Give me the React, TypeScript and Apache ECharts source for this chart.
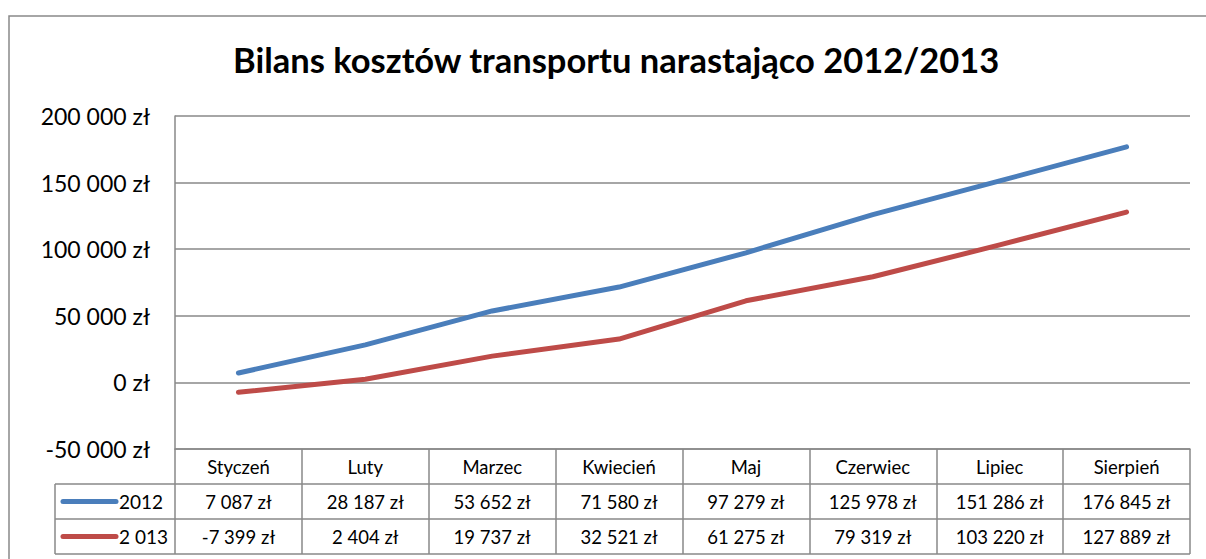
import React, { useEffect, useRef } from "react";
import * as echarts from "echarts";

const TITLE = "Bilans kosztów transportu narastająco 2012/2013";
const MONTHS = ["Styczeń", "Luty", "Marzec", "Kwiecień", "Maj", "Czerwiec", "Lipiec", "Sierpień"];
const SERIES_NAMES = ["2012", "2 013"];
const VALUES_2012 = [7087, 28187, 53652, 71580, 97279, 125978, 151286, 176845];
const VALUES_2013 = [-7399, 2404, 19737, 32521, 61275, 79319, 103220, 127889];
const COLORS = ["#4A7EBB", "#BE4B48"];
const Y_MIN = -50000;
const Y_MAX = 200000;
const Y_STEP = 50000;

const FONT = "Lato, 'Open Sans', sans-serif";
const GRID_COLOR = "#898989";

function fmt(n: number): string {
  const s = Math.abs(n).toString().replace(/\B(?=(\d{3})+(?!\d))/g, " ");
  return (n < 0 ? "-" : "") + s + " zł";
}

export default function App() {
  const ref = useRef<HTMLDivElement>(null);
  useEffect(() => {
    if (!ref.current) return;
    const chart = echarts.init(ref.current, null, { renderer: "svg" });
    const seriesData = [VALUES_2012, VALUES_2013];
    chart.setOption({
      animation: false,
      backgroundColor: "#ffffff",
      textStyle: { fontFamily: FONT },
      title: {
        text: TITLE,
        left: 228,
        top: 37,
        textStyle: { fontFamily: FONT, fontSize: 34.5, fontWeight: "bold", color: "#000" },
      },
      grid: { left: 175, top: 116, right: 16, height: 333, containLabel: false },
      xAxis: {
        type: "category",
        data: MONTHS,
        boundaryGap: true,
        axisLine: { show: true, onZero: false, lineStyle: { color: GRID_COLOR, width: 1.5 } },
        axisTick: { show: true, length: 105, lineStyle: { color: GRID_COLOR, width: 1.5 } },
        axisLabel: { margin: 8, fontSize: 18.5, color: "#000", fontFamily: FONT },
        splitLine: { show: false },
      },
      yAxis: {
        type: "value",
        min: Y_MIN,
        max: Y_MAX,
        interval: Y_STEP,
        axisLine: { show: true, lineStyle: { color: GRID_COLOR, width: 1.5 } },
        axisTick: { show: false },
        axisLabel: {
          margin: 25,
          fontSize: 23,
          color: "#000",
          fontFamily: FONT,
          formatter: (v: number) => fmt(v),
        },
        splitLine: { show: true, lineStyle: { color: GRID_COLOR, width: 1.5 } },
      },
      series: SERIES_NAMES.map((name, i) => ({
        name,
        type: "line",
        data: seriesData[i],
        symbol: "none",
        lineStyle: { color: COLORS[i], width: 5, cap: "round", join: "round" },
        itemStyle: { color: COLORS[i] },
      })),
    });

    const gridLeft = chart.convertToPixel({ xAxisIndex: 0 }, 0) as number;
    const colW = (chart.convertToPixel({ xAxisIndex: 0 }, 1) as number) - gridLeft;
    const plotLeft = gridLeft - colW / 2;
    const plotRight = plotLeft + colW * MONTHS.length;
    const tableTop = chart.convertToPixel({ yAxisIndex: 0 }, Y_MIN) as number;
    const rowH = 35;
    const legendLeft = 55;
    const lineStyle = { stroke: GRID_COLOR, lineWidth: 1.5 };
    const graphics: any[] = [];

    graphics.push({
      type: "rect",
      shape: { x: 9, y: 16, width: 1300, height: 700 },
      style: { fill: "none", stroke: GRID_COLOR, lineWidth: 1.5 },
      silent: true,
      z: -1,
    });

    for (let r = 1; r <= 3; r++) {
      graphics.push({
        type: "line",
        shape: { x1: legendLeft, y1: tableTop + rowH * r, x2: plotRight, y2: tableTop + rowH * r },
        style: lineStyle,
        silent: true,
      });
    }
    graphics.push({
      type: "line",
      shape: { x1: legendLeft, y1: tableTop + rowH, x2: legendLeft, y2: tableTop + rowH * 3 },
      style: lineStyle,
      silent: true,
    });

    SERIES_NAMES.forEach((name, s) => {
      const cy = tableTop + rowH * (s + 1) + rowH / 2;
      graphics.push({
        type: "line",
        shape: { x1: legendLeft + 8, y1: cy, x2: legendLeft + 61, y2: cy },
        style: { stroke: COLORS[s], lineWidth: 5, lineCap: "round" },
        silent: true,
      });
      graphics.push({
        type: "text",
        x: legendLeft + 64,
        y: cy,
        style: { text: name, font: `19px ${FONT}`, fill: "#000", textVerticalAlign: "middle", verticalAlign: "middle" },
        silent: true,
      });
      seriesData[s].forEach((v, i) => {
        const cx = chart.convertToPixel({ xAxisIndex: 0 }, i) as number;
        graphics.push({
          type: "text",
          x: cx,
          y: cy,
          style: {
            text: fmt(v),
            font: `18.5px ${FONT}`,
            fill: "#000",
            align: "center",
            textAlign: "center",
            verticalAlign: "middle",
            textVerticalAlign: "middle",
          },
          silent: true,
        });
      });
    });

    chart.setOption({ graphic: graphics });
    return () => chart.dispose();
  }, []);
  return (
    <div
      ref={ref}
      style={{ position: "absolute", left: 0, top: 0, width: 1206, height: 559, background: "#fff" }}
    />
  );
}
